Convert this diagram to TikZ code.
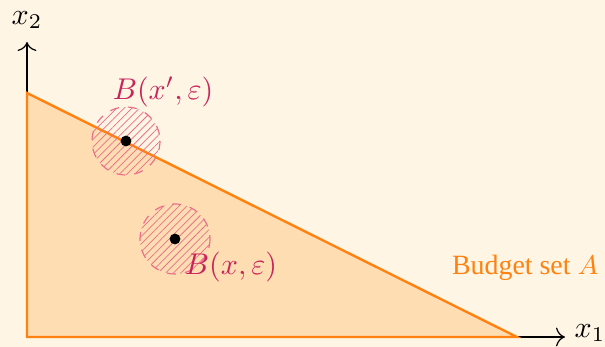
\documentclass[tikz,border=0pt]{standalone}
\usepackage{fontspec}
\newfontfamily\budgetfont{Liberation Serif}
\usetikzlibrary{patterns.meta,arrows.meta}
\definecolor{bgc}{HTML}{FEF5E4}
\definecolor{setfill}{HTML}{FFDDB3}
\definecolor{setline}{HTML}{FF8210}
\definecolor{ballc}{HTML}{C8245A}
\definecolor{hatchc}{HTML}{E8708A}
\tikzset{
  axis/.style={thin,-{To[length=3pt]}},
  budget/.style={fill=setfill,draw=setline,thick,line join=miter},
  ball/.style={draw=hatchc,dashed,thin,pattern={Lines[angle=45,distance=1.8pt,line width=0.25pt]},pattern color=hatchc},
  pt/.style={circle,fill=black,inner sep=0pt,minimum size=3.6pt},
  balllabel/.style={text=ballc},
}
\begin{document}
\begin{tikzpicture}[x=0.3333pt,y=-0.3333pt]
\fill[bgc] (0,0) rectangle (605,347);
\useasboundingbox (0,0) rectangle (605,347);
\coordinate (O) at (27,337);
\coordinate (T) at (27,93);
\coordinate (R) at (517,337);
\coordinate (XE) at (565,337);
\coordinate (YE) at (27,42);
\draw[axis] (O) -- (XE);
\draw[axis] (O) -- (YE);
\draw[budget] (O) -- (T) -- (R) -- cycle;
\node (x1) at (590,333) {$x_1$};
\node (x2) at (27,20) {$x_2$};
\draw[ball] (126,141) circle (34);
\draw[ball] (175,239) circle (35);
\node[pt] (p1) at (126,141) {};
\node[pt] (p2) at (175,239) {};
\node[balllabel] (l1) at (163,92) {$B(x',\varepsilon)$};
\node[balllabel] (l2) at (231,267) {$B(x,\varepsilon)$};
\node[text=setline,anchor=east,inner sep=0pt] (bs) at (599,268) {\fontsize{9.3}{11}\budgetfont Budget set $A$};
\end{tikzpicture}
\end{document}
